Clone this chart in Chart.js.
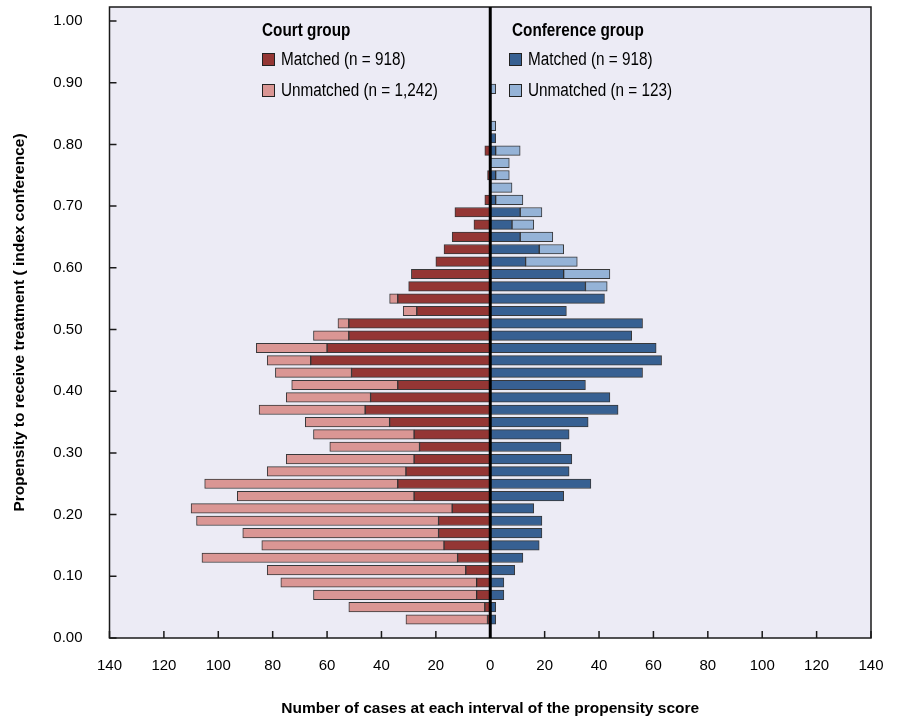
<!DOCTYPE html>
<html>
<head>
<meta charset="utf-8">
<script src="https://cdn.jsdelivr.net/npm/chart.js@4.4.1/dist/chart.umd.min.js"></script>
<style>
  html, body { margin: 0; padding: 0; background: #ffffff; }
  #wrap { position: relative; width: 898px; height: 722px; }
  canvas { position: absolute; left: 0; top: 0; }
  .lg { position: absolute; font-family: "Liberation Sans Narrow", "Arial Narrow", "Liberation Sans", Arial, sans-serif; color: #000; white-space: nowrap; font-size: 18px; line-height: 20px; transform: scaleX(0.85); transform-origin: left center; }
  .lg.t { font-weight: bold; }
  .box { position: absolute; width: 11px; height: 11px; border: 1px solid #222; }
</style>
</head>
<body>
<div id="wrap">
  <canvas id="c" width="898" height="722"></canvas>
  <div class="lg t" style="left:262px; top:20px;">Court group</div>
  <div class="box" style="left:262px; top:53px; background:#943634;"></div>
  <div class="lg" style="left:281px; top:49px;">Matched (n = 918)</div>
  <div class="box" style="left:262px; top:84px; background:#DA9694;"></div>
  <div class="lg" style="left:281px; top:80px;">Unmatched (n = 1,242)</div>

  <div class="lg t" style="left:512px; top:20px;">Conference group</div>
  <div class="box" style="left:509px; top:53px; background:#376092;"></div>
  <div class="lg" style="left:528px; top:49px;">Matched (n = 918)</div>
  <div class="box" style="left:509px; top:84px; background:#95B3D7;"></div>
  <div class="lg" style="left:528px; top:80px;">Unmatched (n = 123)</div>
</div>
<script>
// Propensity score bins (bar centres)
const bins = [0.03,0.05,0.07,0.09,0.11,0.13,0.15,0.17,0.19,0.21,
              0.23,0.25,0.27,0.29,0.31,0.33,0.35,0.37,0.39,0.41,
              0.43,0.45,0.47,0.49,0.51,0.53,0.55,0.57,0.59,0.61,
              0.63,0.65,0.67,0.69,0.71,0.73,0.75,0.77,0.79,0.81,
              0.83,0.85,0.87,0.89];

const courtMatched = [1,2,5,5,9,12,17,19,19,14,
                      28,34,31,28,26,28,37,46,44,34,
                      51,66,60,52,52,27,34,30,29,20,
                      17,14,6,13,2,0,1,0,2,0,
                      0,0,0,0];

const courtUnmatched = [30,50,60,72,73,94,67,72,89,96,
                        65,71,51,47,33,37,31,39,31,39,
                        28,16,26,13,4,5,3,0,0,0,
                        0,0,0,0,0,0,0,0,0,0,
                        0,0,0,0];

const confMatched = [2,2,5,5,9,12,18,19,19,16,
                     27,37,29,30,26,29,36,47,44,35,
                     56,63,61,52,56,28,42,35,27,13,
                     18,11,8,11,2,0,2,0,2,2,
                     0,0,0,0];

const confUnmatched = [0,0,0,0,0,0,0,0,0,0,
                       0,0,0,0,0,0,0,0,0,0,
                       0,0,0,0,0,0,0,8,17,19,
                       9,12,8,8,10,8,5,7,9,0,
                       2,0,0,2];

const yTickValues = [0,0.1,0.2,0.3,0.4,0.5,0.6,0.7,0.8,0.9,1.0];
const xTickValues = [-140,-120,-100,-80,-60,-40,-20,0,20,40,60,80,100,120,140];

const font = '"Liberation Sans", Arial, sans-serif';

function series(values, sign) {
  const out = [];
  values.forEach((v, i) => { if (v !== 0) out.push({ x: sign * v, y: bins[i] }); });
  return out;
}

const barStyle = { borderColor: 'rgba(25,25,25,0.85)', borderWidth: 1, borderSkipped: false, barThickness: 9.5 };

const framePlugin = {
  id: 'frame',
  beforeDatasetsDraw(chart) {
    const { ctx, chartArea: a } = chart;
    ctx.save();
    ctx.fillStyle = '#ECEBF5';
    ctx.fillRect(a.left, a.top, a.right - a.left, a.bottom - a.top);
    ctx.restore();
  },
  afterDatasetsDraw(chart) {
    const { ctx, chartArea: a, scales } = chart;
    const xs = scales.x, ys = scales.y;
    ctx.save();
    ctx.strokeStyle = '#1a1a1a';
    ctx.lineWidth = 1.5;
    ctx.strokeRect(a.left, a.top, a.right - a.left, a.bottom - a.top);
    ctx.beginPath();
    xs.ticks.forEach(t => {
      const px = xs.getPixelForValue(t.value);
      ctx.moveTo(px, a.bottom);
      ctx.lineTo(px, a.bottom - 7);
    });
    ys.ticks.forEach(t => {
      const py = ys.getPixelForValue(t.value);
      ctx.moveTo(a.left, py);
      ctx.lineTo(a.left + 7, py);
    });
    ctx.stroke();
    const x0 = xs.getPixelForValue(0);
    ctx.strokeStyle = '#000';
    ctx.lineWidth = 3;
    ctx.beginPath();
    ctx.moveTo(x0, a.top);
    ctx.lineTo(x0, a.bottom);
    ctx.stroke();
    ctx.restore();
  }
};

new Chart(document.getElementById('c'), {
  type: 'bar',
  data: {
    datasets: [
      Object.assign({ label: 'Court group - Matched (n = 918)', data: series(courtMatched, -1), backgroundColor: '#943634' }, barStyle),
      Object.assign({ label: 'Court group - Unmatched (n = 1,242)', data: series(courtUnmatched, -1), backgroundColor: '#DA9694' }, barStyle),
      Object.assign({ label: 'Conference group - Matched (n = 918)', data: series(confMatched, 1), backgroundColor: '#376092' }, barStyle),
      Object.assign({ label: 'Conference group - Unmatched (n = 123)', data: series(confUnmatched, 1), backgroundColor: '#95B3D7' }, barStyle)
    ]
  },
  options: {
    indexAxis: 'y',
    responsive: false,
    animation: false,
    layout: { padding: { top: 7, right: 27, left: 0, bottom: 0 } },
    plugins: { legend: { display: false }, tooltip: { enabled: false } },
    scales: {
      x: {
        type: 'linear', min: -140, max: 140, stacked: true,
        grid: { display: false, drawTicks: false }, border: { display: false },
        afterBuildTicks: s => { s.ticks = xTickValues.map(v => ({ value: v })); },
        ticks: { callback: v => String(Math.abs(v)), padding: 19, autoSkip: false, maxRotation: 0,
                 font: { family: font, size: 15 }, color: '#000' },
        title: { display: true, text: 'Number of cases at each interval of the propensity score',
                 font: { family: font, size: 15.5, weight: 'bold' }, color: '#000', padding: { top: 0, bottom: 4 } },
        afterFit: s => { s.height = 84; s.paddingLeft = 0; s.paddingRight = 0; }
      },
      y: {
        type: 'linear', min: 0, max: 1.0227, stacked: true, offset: false,
        grid: { display: false, drawTicks: false }, border: { display: false },
        afterBuildTicks: s => { s.ticks = yTickValues.map(v => ({ value: v })); },
        ticks: { callback: v => Number(v).toFixed(2), padding: 27, autoSkip: false,
                 font: { family: font, size: 15 }, color: '#000' },
        title: { display: true, text: 'Propensity to receive treatment ( index conference)',
                 font: { family: font, size: 15.5, weight: 'bold' }, color: '#000', padding: { top: 10, bottom: 0 } },
        afterFit: s => { s.width = 109.5; s.paddingTop = 0; s.paddingBottom = 0; }
      }
    }
  },
  plugins: [framePlugin]
});
</script>
</body>
</html>
